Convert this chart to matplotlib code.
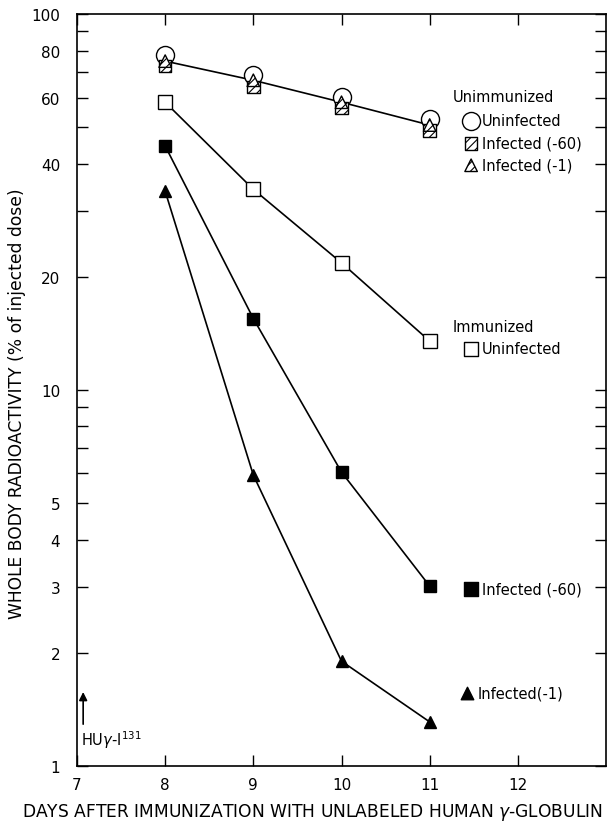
import matplotlib
matplotlib.use("Agg")
import matplotlib.pyplot as plt
import numpy as np

plt.rcParams["font.family"] = ["DejaVu Sans"]
plt.rcParams["hatch.linewidth"] = 0.8

# ---------------------------------------------------------------------------
# data
# ---------------------------------------------------------------------------
days = [8, 9, 10, 11]

unimm_uninfected = [78.0, 68.8, 60.2, 52.6]
unimm_inf60 = [72.7, 64.0, 56.2, 49.1]
unimm_inf1 = [75.0, 66.7, 58.3, 50.7]

imm_uninfected = [58.3, 34.2, 21.8, 13.5]
imm_inf60 = [44.6, 15.5, 6.05, 3.01]
imm_inf1 = [33.8, 5.94, 1.90, 1.31]

x_ticks = [7, 8, 9, 10, 11, 12]
y_major = [1, 2, 3, 4, 5, 10, 20, 40, 60, 80, 100]
y_minor = [6, 7, 8, 9, 30, 50, 70, 90]

fig = plt.figure(figsize=(6.13, 8.28), dpi=100)
ax = fig.add_axes([0.1256, 0.0737, 0.863, 0.908])
ax.set_yscale("log")
ax.set_xlim(7, 13)
ax.set_ylim(1, 100)

# unimmunized group: one line through the overlapping markers
ax.plot(days, unimm_inf1, color="black", lw=1.2, zorder=1)
ax.scatter(days, unimm_uninfected, s=13**2, marker="o", facecolors="white",
           edgecolors="black", linewidths=1.0, zorder=2)
ax.scatter(days, unimm_inf60, s=9**2, marker="s", facecolors="white",
           edgecolors="black", linewidths=1.0, hatch="////", zorder=3)
ax.scatter(days, unimm_inf1, s=9**2, marker="^", facecolors="white",
           edgecolors="black", linewidths=1.0, hatch="////", zorder=4)

# immunized group
ax.plot(days, imm_uninfected, color="black", lw=1.2, marker="s", ms=9.5,
        mfc="white", mec="black", mew=1.0)
ax.plot(days, imm_inf60, color="black", lw=1.2, marker="s", ms=9,
        mfc="black", mec="black")
ax.plot(days, imm_inf1, color="black", lw=1.2, marker="^", ms=9,
        mfc="black", mec="black")

# axes / ticks
ax.set_xticks(x_ticks)
ax.set_xticklabels([str(v) for v in x_ticks], fontsize=11)
ax.set_yticks(y_major)
ax.set_yticklabels([str(v) for v in y_major], fontsize=11)
ax.set_yticks(y_minor, minor=True)
ax.yaxis.set_minor_formatter(matplotlib.ticker.NullFormatter())
ax.tick_params(axis="both", which="both", direction="in", top=True, right=True,
               length=8, width=1.0, pad=8)
ax.tick_params(axis="y", which="major", pad=12)
ax.tick_params(axis="x", which="minor", bottom=False, top=False)
for sp in ax.spines.values():
    sp.set_linewidth(1.2)

# axis titles (placed on the figure, as in the original they are off-centre)
fig.text(0.509, 0.019,
         "DAYS AFTER IMMUNIZATION WITH UNLABELED HUMAN $\\gamma$-GLOBULIN",
         fontsize=12.3, ha="center", va="center")
fig.text(0.028, 0.513, "WHOLE BODY RADIOACTIVITY (% of injected dose)",
         fontsize=12.3, rotation=90, ha="center", va="center")

# key, drawn as in the original (text + symbols in axes coordinates)
tA = ax.transAxes
kx, tx = 0.745, 0.765
ax.text(0.71, 0.890, "Unimmunized", transform=tA, fontsize=10.5, va="center")
ax.scatter([kx], [0.858], s=13**2, marker="o", facecolors="white",
           edgecolors="black", linewidths=1.0, transform=tA, clip_on=False)
ax.text(tx, 0.858, "Uninfected", transform=tA, fontsize=10.5, va="center")
ax.scatter([kx], [0.828], s=9**2, marker="s", facecolors="white",
           edgecolors="black", linewidths=1.0, hatch="////", transform=tA)
ax.text(tx, 0.828, "Infected (-60)", transform=tA, fontsize=10.5, va="center")
ax.scatter([kx], [0.799], s=9**2, marker="^", facecolors="white",
           edgecolors="black", linewidths=1.0, hatch="////", transform=tA)
ax.text(tx, 0.799, "Infected (-1)", transform=tA, fontsize=10.5, va="center")

ax.text(0.71, 0.585, "Immunized", transform=tA, fontsize=10.5, va="center")
ax.scatter([kx], [0.555], s=9.5**2, marker="s", facecolors="white",
           edgecolors="black", linewidths=1.0, transform=tA)
ax.text(tx, 0.555, "Uninfected", transform=tA, fontsize=10.5, va="center")

ax.scatter([kx], [0.235], s=9.5**2, marker="s", color="black", transform=tA)
ax.text(tx, 0.235, "Infected (-60)", transform=tA, fontsize=10.5, va="center")
ax.scatter([0.737], [0.097], s=9**2, marker="^", color="black", transform=tA)
ax.text(0.757, 0.097, "Infected(-1)", transform=tA, fontsize=10.5, va="center")

# injection marker
ax.annotate("", xy=(7.07, 1.6), xytext=(7.07, 1.27),
            arrowprops=dict(arrowstyle="-|>", color="black", lw=1.2,
                            mutation_scale=12))
ax.text(7.04, 1.1, "HU$\\gamma$-I$^{131}$", fontsize=10.5, va="bottom")

fig.savefig("out.png", dpi=100)
